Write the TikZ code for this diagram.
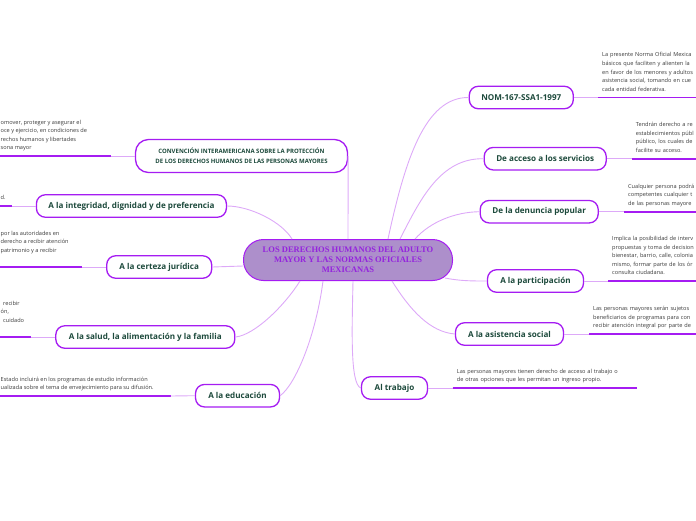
\documentclass[tikz,border=0pt]{standalone}
\usepackage{fontspec}
\setmainfont{Open Sans}
\newfontfamily\hubserif{Liberation Serif}
\usetikzlibrary{calc}
\definecolor{mapviolet}{HTML}{A51CF2}
\definecolor{maplink}{HTML}{DDA9F8}
\definecolor{hubfill}{HTML}{AD8FCB}
\definecolor{hubink}{HTML}{9424DD}
\definecolor{topicink}{HTML}{1D4A3C}
\definecolor{noteink}{HTML}{3A3A3A}
\begin{document}
\begin{tikzpicture}[x=1pt,y=-1pt,
    hub/.style={draw=mapviolet, line width=1pt, fill=hubfill, rounded corners=20pt,
      minimum width=209pt, minimum height=41pt, align=center, text=hubink,
      font=\hubserif\bfseries\fontsize{8.5}{10}\selectfont},
    topic/.style={draw=mapviolet, line width=1.3pt, fill=white, rounded corners=9pt,
      minimum height=22.5pt, inner xsep=6pt, text=topicink,
      font=\bfseries\fontsize{8.1}{10}\selectfont},
    note/.style={anchor=south west, align=left, inner xsep=4pt, inner ysep=3.4pt,
      text=noteink, font=\fontsize{5.6}{8.6}\selectfont, execute at end node=\strut},
    lnote/.style={note, inner xsep=0.5pt},
    rnote/.style={note, text width=176pt},
    link/.style={maplink, line width=0.9pt},
    uline/.style={mapviolet, line width=1.6pt}]
  \clip (0,0) rectangle (696,520);

  \node[hub] (hub) at (348,260) {LOS DERECHOS HUMANOS DEL ADULTO\\MAYOR Y LAS NORMAS OFICIALES\\MEXICANAS};

  \node[topic, minimum width=212pt, minimum height=33pt, rounded corners=13pt, align=center,
    font=\bfseries\fontsize{6}{10.4}\selectfont] (conv) at (241.5,156)
    {CONVENCIÓN INTERAMERICANA SOBRE LA PROTECCIÓN\\DE LOS DERECHOS HUMANOS DE LAS PERSONAS MAYORES};
  \node[topic, minimum width=190pt] (integ) at (131.4,206) {A la integridad, dignidad y de preferencia};
  \node[topic, minimum width=105pt] (cert) at (159.2,267) {A la certeza jurídica};
  \node[topic, minimum width=179pt] (salud) at (145.3,337) {A la salud, la alimentación y la familia};
  \node[topic, minimum width=84pt] (educ) at (237.5,395.7) {A la educación};
  \node[topic, minimum width=104pt] (nom) at (521.3,97.5) {NOM-167-SSA1-1997};
  \node[topic, minimum width=122pt] (serv) at (545.2,158.7) {De acceso a los servicios};
  \node[topic, minimum width=118pt] (denun) at (539.2,211.7) {De la denuncia popular};
  \node[topic, minimum width=96pt] (partic) at (535.5,281) {A la participación};
  \node[topic, minimum width=108pt] (asist) at (509.5,334) {A la asistencia social};
  \node[topic, minimum width=66pt] (trab) at (394.5,388) {Al trabajo};

  \draw[link] (hub.north) -- (conv.east);
  \draw[link] ($(hub.north west)+(49,0)$) .. controls (282,222) and (250,206) .. (integ.east);
  \draw[link] ($(hub.west)+(0,6)$) -- (cert.east);
  \draw[link] ($(hub.south west)+(57,0)$) .. controls (285,305) and (255,335) .. (salud.east);
  \draw[link] ($(hub.south west)+(80,0)$) .. controls (316,335) and (296,384) .. (educ.east);
  \draw[link] ($(hub.south)+(5,0)$) .. controls (352,330) and (350,384) .. (trab.west);
  \draw[link] ($(hub.south)+(44,0)$) .. controls (410,310) and (430,332) .. (asist.west);
  \draw[link] ($(hub.south east)+(-8,-3)$) .. controls (460,281) and (472,281) .. (partic.west);
  \draw[link] ($(hub.north)+(67,0)$) .. controls (430,222) and (455,212) .. (denun.west);
  \draw[link] ($(hub.north)+(52,0)$) .. controls (420,200) and (440,158) .. (serv.west);
  \draw[link] ($(hub.north)+(40,0)$) .. controls (405,160) and (425,97) .. (nom.west);

  \node[lnote] (convT) at (0,156) {omover, proteger y asegurar el\\oce y ejercicio, en condiciones de\\rechos humanos y libertades\\sona mayor};
  \coordinate (convE) at (110.7,156);
  \draw[uline] (convT.south west) -- (convE);
  \draw[link] (convE) -- (conv.west);

  \node[lnote] (integT) at (0,206) {d.};
  \coordinate (integE) at (11.7,206);
  \draw[uline] (integT.south west) -- (integE);
  \draw[link] (integE) -- (integ.west);

  \node[lnote] (certT) at (0,267) {por las autoridades en\\derecho a recibir atención\\patrimonio y a recibir\\~};
  \coordinate (certE) at (81.7,267);
  \draw[uline] (certT.south west) -- (certE);
  \draw[link] (certE) -- (cert.west);

  \node[lnote] (saludT) at (0,337) {\hspace*{2.5pt}recibir\\ón,\\\hspace*{2.5pt}cuidado\\~};
  \coordinate (saludE) at (30.7,337);
  \draw[uline] (saludT.south west) -- (saludE);
  \draw[link] (saludE) -- (salud.west);

  \node[lnote] (educT) at (0,396) {Estado incluirá en los programas de estudio información\\ualizada sobre el tema de envejecimiento para su difusión.};
  \coordinate (educE) at (170.7,396);
  \draw[uline] (educT.south west) -- (educE);
  \draw[link] (educE) -- (educ.west);

  \node[rnote] (nomT) at (598,97.5) {La presente Norma Oficial Mexica\\básicos que faciliten y alienten la\\en favor de los menores y adultos\\asistencia social, tomando en cue\\cada entidad federativa.};
  \draw[uline] (nomT.south west) -- (nomT.south east);
  \draw[link] (nom.east) -- (nomT.south west);

  \node[rnote] (servT) at (631.7,158.7) {Tendrán derecho a re\\establecimientos públ\\público, los cuales de\\facilite su acceso.};
  \draw[uline] (servT.south west) -- (servT.south east);
  \draw[link] (serv.east) -- (servT.south west);

  \node[rnote] (denunT) at (624,211.7) {Cualquier persona podrá\\competentes cualquier t\\de las personas mayore};
  \draw[uline] (denunT.south west) -- (denunT.south east);
  \draw[link] (denun.east) -- (denunT.south west);

  \node[rnote] (particT) at (608,281) {Implica la posibilidad de interv\\propuestas y toma de decision\\bienestar, barrio, calle, colonia\\mismo, formar parte de los ór\\consulta ciudadana.};
  \draw[uline] (particT.south west) -- (particT.south east);
  \draw[link] (partic.east) -- (particT.south west);

  \node[rnote] (asistT) at (589,334) {Las personas mayores serán sujetos\\beneficiarios de programas para con\\recibir atención integral por parte de};
  \draw[uline] (asistT.south west) -- (asistT.south east);
  \draw[link] (asist.east) -- (asistT.south west);

  \node[rnote] (trabT) at (452.7,388) {Las personas mayores tienen derecho de acceso al trabajo o\\de otras opciones que les permitan un ingreso propio.};
  \draw[uline] (trabT.south west) -- (trabT.south east);
  \draw[link] (trab.east) -- (trabT.south west);
\end{tikzpicture}
\end{document}
